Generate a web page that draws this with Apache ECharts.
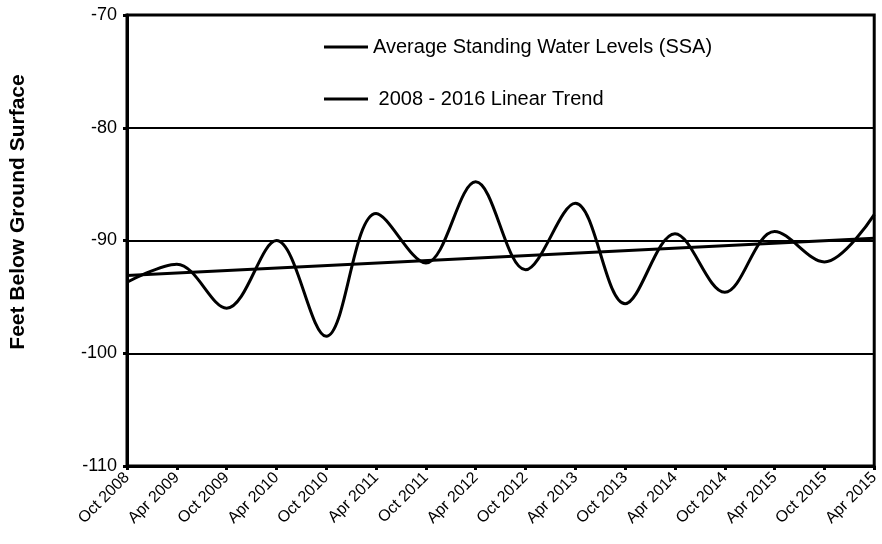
<!DOCTYPE html>
<html>
<head>
<meta charset="utf-8">
<script src="https://cdn.jsdelivr.net/npm/echarts@6/dist/echarts.min.js"></script>
<style>
  html, body { margin: 0; padding: 0; background: #fff; }
  #chart { width: 882px; height: 544px; }
</style>
</head>
<body>
<div id="chart"></div>
<script>
// tick labels along the bottom (the last one really reads "Apr 2015" twice in the source)
const periods = ['Oct 2008', 'Apr 2009', 'Oct 2009', 'Apr 2010', 'Oct 2010', 'Apr 2011', 'Oct 2011', 'Apr 2012',
  'Oct 2012', 'Apr 2013', 'Oct 2013', 'Apr 2014', 'Oct 2014', 'Apr 2015', 'Oct 2015', 'Apr 2015']

// average standing water level, feet below ground surface
const waterLevels = [-93.7, -92.1, -96.0, -90.0, -98.5, -87.6, -92.0, -84.8,
  -92.6, -86.7, -95.6, -89.4, -94.6, -89.2, -91.9, -87.7]

// linear trend end points: [category index, value]
const trendPoints = [[0, -93.1], [15, -89.8]]

const FONT = '"Liberation Sans", Arial, sans-serif'

const chart = echarts.init(document.getElementById('chart'))

const option = {
  backgroundColor: '#fff',
  animation: false,
  textStyle: { fontFamily: FONT, color: '#000' },
  grid: {
    left: 127,
    right: 4,
    top: 15,
    bottom: 78,
    show: true,
    borderColor: '#000',
    borderWidth: 3,
  },
  legend: {
    orient: 'vertical',
    left: 319,
    top: 32,
    itemGap: 32,
    itemWidth: 44,
    itemHeight: 3,
    icon: 'rect',
    textStyle: { fontFamily: FONT, fontSize: 20, color: '#000' },
    formatter: (name) => (name.startsWith('2008') ? ' ' + name : name),
    data: ['Average Standing Water Levels (SSA)', '2008 - 2016 Linear Trend'],
  },
  xAxis: {
    type: 'category',
    data: periods,
    boundaryGap: false,
    axisLine: { lineStyle: { color: '#000', width: 3 } },
    axisTick: { show: true, length: 4, lineStyle: { color: '#000', width: 3 } },
    axisLabel: {
      interval: 0,
      rotate: 45,
      margin: 9,
      fontSize: 16,
      fontFamily: FONT,
      color: '#000',
    },
    splitLine: { show: false },
  },
  yAxis: {
    type: 'value',
    min: -110,
    max: -70,
    interval: 10,
    axisLine: { show: true, lineStyle: { color: '#000', width: 3 } },
    axisTick: { show: true, length: 4, lineStyle: { color: '#000', width: 3 } },
    axisLabel: { fontSize: 18, fontFamily: FONT, color: '#000', margin: 10 },
    splitLine: { lineStyle: { color: '#000', width: 2 } },
  },
  graphic: [
    {
      type: 'text',
      x: 8,
      y: 212,
      rotation: Math.PI / 2,
      style: {
        text: 'Feet Below Ground Surface',
        font: 'bold 21px ' + FONT,
        fill: '#000',
        align: 'center',
        verticalAlign: 'top',
      },
    },
  ],
  series: [
    {
      name: 'Average Standing Water Levels (SSA)',
      type: 'line',
      data: waterLevels,
      smooth: 0.35,
      showSymbol: false,
      color: '#000',
      lineStyle: { color: '#000', width: 3 },
    },
    {
      name: '2008 - 2016 Linear Trend',
      type: 'line',
      data: trendPoints,
      showSymbol: false,
      color: '#000',
      lineStyle: { color: '#000', width: 3 },
    },
  ],
}

chart.setOption(option)
</script>
</body>
</html>
